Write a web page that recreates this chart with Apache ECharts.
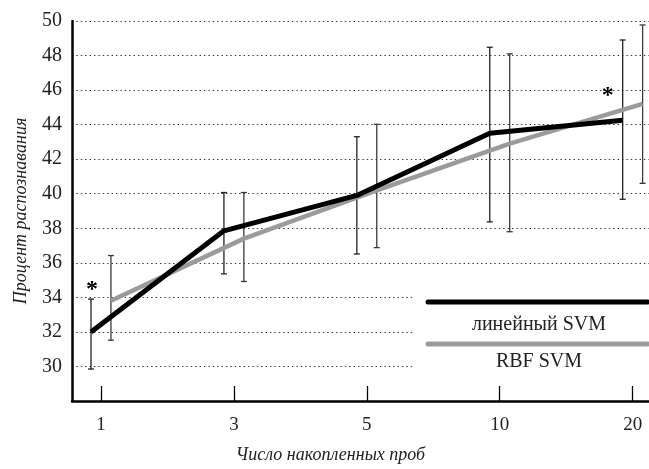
<!DOCTYPE html>
<html>
<head>
<meta charset="utf-8">
<script src="https://cdn.jsdelivr.net/npm/echarts@6/dist/echarts.min.js"></script>
<style>html,body{margin:0;padding:0;background:#fff}#c{width:649px;height:469px}</style>
</head>
<body>
<div id="c"></div>
<script>
// ---- data ----
const categories = ['1', '3', '5', '10', '20'];
const yTicks = [30, 32, 34, 36, 38, 40, 42, 44, 46, 48, 50];
const linValues = [32.0, 37.85, 39.9, 43.5, 44.25];
const linUpper  = [33.9, 40.07, 43.3, 48.48, 48.9];
const linLower  = [29.85, 35.36, 36.51, 38.37, 39.68];
const rbfValues = [33.8, 37.4, 40.2, 42.9, 45.2];
const rbfUpper  = [36.42, 40.07, 44.02, 48.1, 49.77];
const rbfLower  = [31.52, 34.92, 36.88, 37.8, 40.6];
const seriesNames = ['линейный SVM', 'RBF SVM'];
const starIndex = [0, 4]; // points marked with *

// ---- layout ----
const FONT = '"Liberation Serif", "DejaVu Serif", serif';
const GROUP_OFF = 0.075;
const idx = categories.map((c, i) => i);
const linData = idx.map(i => [i - GROUP_OFF, linValues[i]]);
const rbfData = idx.map(i => [i + GROUP_OFF, rbfValues[i]]);
const linErr = idx.map(i => [i - GROUP_OFF, linLower[i], linUpper[i]]);
const rbfErr = idx.map(i => [i + GROUP_OFF, rbfLower[i], rbfUpper[i]]);

function errRender(color) {
  return function (params, api) {
    const x = api.value(0);
    const lo = api.coord([x, api.value(1)]);
    const hi = api.coord([x, api.value(2)]);
    const w = 3;
    const st = { stroke: color, lineWidth: 1.3 };
    return {
      type: 'group',
      children: [
        { type: 'line', shape: { x1: lo[0], y1: lo[1], x2: hi[0], y2: hi[1] }, style: st },
        { type: 'line', shape: { x1: hi[0] - w, y1: hi[1], x2: hi[0] + w, y2: hi[1] }, style: st },
        { type: 'line', shape: { x1: lo[0] - w, y1: lo[1], x2: lo[0] + w, y2: lo[1] }, style: st }
      ]
    };
  };
}

const chart = echarts.init(document.getElementById('c'), null, { renderer: 'canvas' });
const option = {
  animation: false,
  backgroundColor: '#fff',
  grid: { left: 72, right: 0, top: 21, bottom: 67 },
  xAxis: {
    type: 'value',
    min: -0.218,
    max: 4.123,
    name: 'Число накопленных проб',
    nameLocation: 'middle',
    nameGap: 45,
    nameTextStyle: { fontFamily: FONT, fontStyle: 'italic', fontSize: 18, color: '#222', padding: [0, 60, 0, 0] },
    axisLine: { show: true, onZero: false, lineStyle: { color: '#000', width: 2.5 } },
    axisTick: { show: true, inside: true, length: 15, customValues: idx, lineStyle: { color: '#000', width: 1.3 } },
    axisLabel: {
      customValues: idx, margin: 15,
      formatter: v => categories[Math.round(v)] || '',
      fontFamily: FONT, fontSize: 19, color: '#222'
    },
    splitLine: { show: false }
  },
  yAxis: {
    type: 'value',
    min: 28, max: 50, interval: 2,
    name: 'Процент распознавания',
    nameLocation: 'middle',
    nameGap: 42,
    nameTextStyle: { fontFamily: FONT, fontStyle: 'italic', fontSize: 18, color: '#222' },
    axisLine: { show: true, onZero: false, lineStyle: { color: '#000', width: 2.5 } },
    axisTick: { show: false },
    axisLabel: {
      margin: 10,
      formatter: v => (yTicks.indexOf(v) >= 0 ? String(v) : ''),
      fontFamily: FONT, fontSize: 20, color: '#222'
    },
    splitLine: { show: true, showMinLine: false, lineStyle: { color: '#333', width: 1, type: [1.4, 3] } }
  },
  series: [
    { type: 'custom', name: 'rbfErr', renderItem: errRender('#3a3a3a'), data: rbfErr, z: 2, encode: { x: 0, y: [1, 2] } },
    { type: 'custom', name: 'linErr', renderItem: errRender('#222'), data: linErr, z: 2, encode: { x: 0, y: [1, 2] } },
    { type: 'line', name: seriesNames[1], data: rbfData, showSymbol: false, z: 3,
      lineStyle: { color: '#9b9b9b', width: 4.5 } },
    { type: 'line', name: seriesNames[0], data: linData, showSymbol: false, z: 4,
      lineStyle: { color: '#000', width: 5 } }
  ]
};
chart.setOption(option);

// legend + annotations
const p0 = chart.convertToPixel({ xAxisIndex: 0, yAxisIndex: 0 }, [starIndex[0] - GROUP_OFF, linUpper[starIndex[0]]]);
const p4 = chart.convertToPixel({ xAxisIndex: 0, yAxisIndex: 0 }, [starIndex[1] - GROUP_OFF, linValues[starIndex[1]]]);
chart.setOption({
  graphic: [
    { type: 'rect', z: 100, shape: { x: 413, y: 280, width: 236, height: 104 }, style: { fill: '#fff' } },
    { type: 'line', z: 101, shape: { x1: 428, y1: 302, x2: 648, y2: 302 }, style: { stroke: '#000', lineWidth: 5, lineCap: 'round' } },
    { type: 'line', z: 101, shape: { x1: 428, y1: 344, x2: 648, y2: 344 }, style: { stroke: '#9b9b9b', lineWidth: 5, lineCap: 'round' } },
    { type: 'text', z: 101, x: 539, y: 325, style: { text: seriesNames[0], fontFamily: FONT, fontSize: 20, fill: '#222', align: 'center', verticalAlign: 'middle' } },
    { type: 'text', z: 101, x: 539, y: 362, style: { text: seriesNames[1], fontFamily: FONT, fontSize: 20, fill: '#222', align: 'center', verticalAlign: 'middle' } },
    { type: 'text', z: 101, x: p0[0] + 1, y: p0[1] - 9, style: { text: '*', fontFamily: FONT, fontSize: 24, fontWeight: 'bold', fill: '#000', align: 'center', verticalAlign: 'middle' } },
    { type: 'text', z: 101, x: p4[0] - 15, y: p4[1] - 25, style: { text: '*', fontFamily: FONT, fontSize: 24, fontWeight: 'bold', fill: '#000', align: 'center', verticalAlign: 'middle' } }
  ]
});
</script>
</body>
</html>
